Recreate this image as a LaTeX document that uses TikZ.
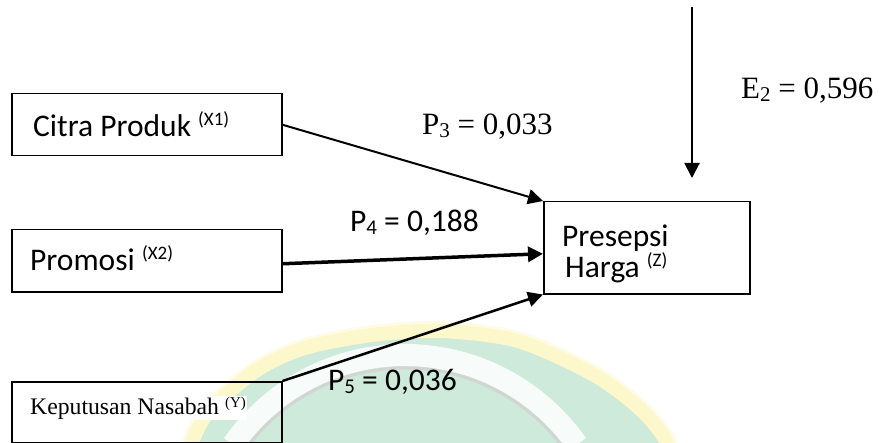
\documentclass[tikz,border=0pt]{standalone}
\usepackage{fontspec}
\setmainfont{Carlito}
\newfontfamily\timesf{Liberation Serif}
\usetikzlibrary{arrows.meta}

\definecolor{rimyellow}{RGB}{252,248,204}
\definecolor{logogreen}{RGB}{206,234,218}

% raised and lowered indices
\newcommand{\supc}[1]{\raisebox{11pt}{\fontsize{19}{19}\selectfont #1}}
\newcommand{\supt}[1]{\raisebox{7pt}{\fontsize{15}{15}\selectfont #1}}
\newcommand{\subn}[1]{\raisebox{-3pt}{\fontsize{21}{21}\selectfont #1}}

\tikzset{
  box/.style={draw=black, line width=1.5pt, minimum width=270pt, minimum height=62pt,
    inner sep=0pt, anchor=north west},
  lbl/.style={anchor=base west, inner sep=0pt, font=\fontsize{31.5}{31.5}\selectfont},
  tlbl/.style={anchor=base west, inner sep=0pt, font=\timesf\fontsize{31}{31}\selectfont},
  conn/.style={line width=2pt, -{Triangle[length=15pt,width=15pt]}}
}

\begin{document}
\begin{tikzpicture}[x=1pt,y=1pt]
\useasboundingbox (0,0) rectangle (882,-443);

% faint round emblem in the background
\begin{scope}
  \clip (0,0) rectangle (882,-443);
  \def\rim{plot[smooth] coordinates {(186,-480) (192,-443) (210,-410) (257,-370) (305,-348)
      (372,-335) (440,-331) (518,-341) (594,-375) (641,-410) (667,-443) (674,-480)} -- cycle}
  \draw[rimyellow!45, line width=20pt] \rim;
  \fill[logogreen, draw=rimyellow, line width=14pt] \rim;
  \draw[white, line width=22pt, opacity=0.85]
    (405,-565) ++(145:210) arc[start angle=145, end angle=35, radius=210];
  \draw[gray!35, line width=3pt, opacity=0.8]
    (405,-565) ++(148:197) arc[start angle=148, end angle=32, radius=197];
\end{scope}

% boxes
\node[box] (x1) at (11,-93) {};
\node[box] (x2) at (11,-229) {};
\node[box, minimum height=61pt] (y) at (11,-381) {};
\node[box, minimum width=206pt, minimum height=92pt] (z) at (543,-201) {};

% box texts
\node[lbl] (x1t) at (33,-137) {Citra Produk \supc{(X1)}};
\node[lbl] (x2t) at (30,-270) {Promosi \supc{(X2)}};
\node[anchor=base west, inner sep=1pt, fill=white, font=\timesf\fontsize{23.7}{23.7}\selectfont]
  (yt) at (29,-414) {Keputusan Nasabah \supt{(Y)}};
\node[lbl, align=left, font=\fontsize{31.5}{29}\selectfont] (zt) at (562,-277)
  {Presepsi\\\hspace*{3pt}Harga \supc{(Z)}};

% path coefficients
\node[tlbl] (e2) at (741,-99) {E\subn{2} = 0,596};
\node[tlbl] (p3) at (422,-135) {P\subn{3} = 0,033};
\node[lbl] (p4) at (350,-232) {P\subn{4} = 0,188};
\node[lbl] (p5) at (328,-390) {P\subn{5} = 0,036};

% connectors
\draw[conn] (x1.east) -- (z.north west);
\draw[conn, line width=3.5pt] ([yshift=-3pt]x2.east) -- ([yshift=-6pt]z.west);
\draw[conn, line width=2.5pt] (y.north east) -- (z.south west);
\coordinate (etop) at (692,-7);
\coordinate (ebot) at (692,-178);
\draw[conn] (etop) -- (ebot);
\end{tikzpicture}
\end{document}
